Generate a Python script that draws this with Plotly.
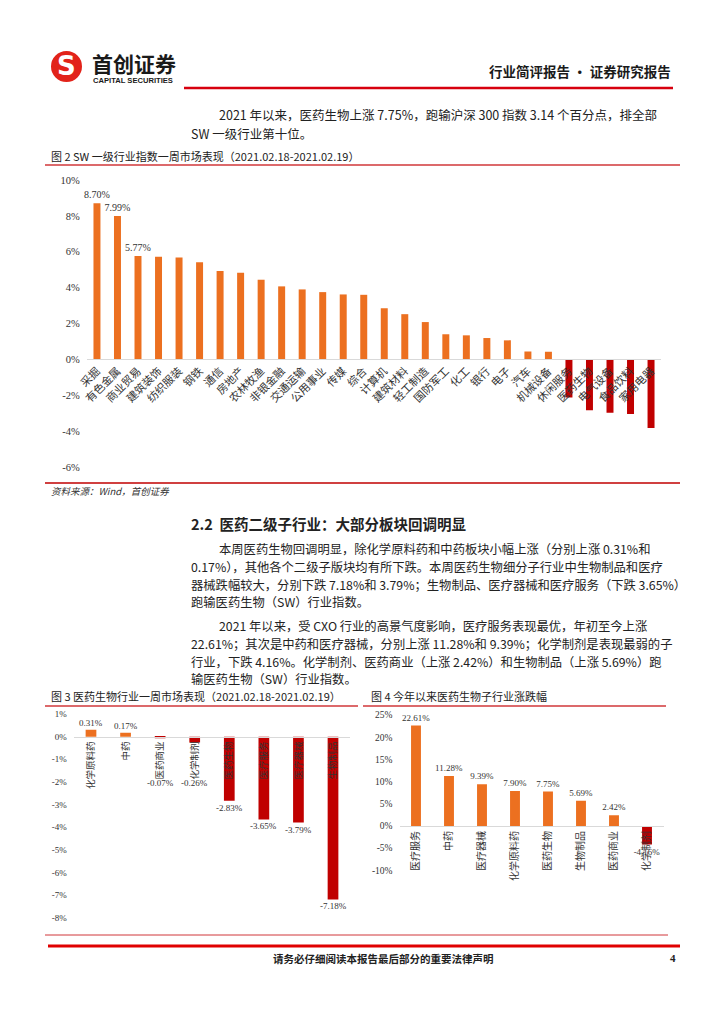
import plotly.graph_objects as go

W, H = 724, 1024

# ---------------- data ----------------
cats2 = ["采掘", "有色金属", "商业贸易", "建筑装饰", "纺织服装", "钢铁", "通信", "房地产",
         "农林牧渔", "非银金融", "交通运输", "公用事业", "传媒", "综合", "计算机", "建筑材料",
         "轻工制造", "国防军工", "化工", "银行", "电子", "汽车", "机械设备", "休闲服务",
         "医药生物", "电气设备", "食品饮料", "家用电器"]
vals2 = [8.70, 7.99, 5.77, 5.72, 5.68, 5.41, 4.93, 4.83, 4.44, 4.07, 3.90, 3.75, 3.62, 3.60,
         2.85, 2.52, 2.08, 1.40, 1.34, 1.19, 1.06, 0.44, 0.43, -2.13, -2.83, -2.98, -3.05, -3.83]
labelled2 = 3  # number of leading bars carrying a value label

cats3 = ["化学原料药", "中药", "医药商业", "化学制剂", "医药生物", "医疗服务", "医疗器械", "生物制品"]
vals3 = [0.31, 0.17, -0.07, -0.26, -2.83, -3.65, -3.79, -7.18]

cats4 = ["医疗服务", "中药", "医疗器械", "化学原料药", "医药生物", "生物制品", "医药商业", "化学制剂"]
vals4 = [22.61, 11.28, 9.39, 7.90, 7.75, 5.69, 2.42, -4.16]

ticks2 = [10, 8, 6, 4, 2, 0, -2, -4, -6]
ticks3 = [1, 0, -1, -2, -3, -4, -5, -6, -7, -8]
ticks4 = [25, 20, 15, 10, 5, 0, -5, -10]

ORANGE = "#EC7020"
RED = "#C00000"
SERIF = "Liberation Serif"
CJK = "Noto Sans CJK SC"


def fx(p):
    return p / W


def fy(p):
    return 1 - p / H


def colors(vals):
    return [ORANGE if v >= 0 else RED for v in vals]


def zero_pos(dom, rng):
    return dom[0] + (0 - rng[0]) / (rng[1] - rng[0]) * (dom[1] - dom[0])


fig = go.Figure()

# ---------------- chart 2 ----------------
rng2 = [-6, 10]
dom2y = [fy(467), fy(180)]
fig.add_trace(go.Bar(
    x=cats2, y=vals2, marker=dict(color=colors(vals2), line=dict(width=0)), width=0.34,
    text=[f"{v:.2f}%" if i < labelled2 else "" for i, v in enumerate(vals2)],
    textposition="outside", constraintext="none", cliponaxis=False,
    textfont=dict(family=SERIF, size=10, color="#333"),
    xaxis="x", yaxis="y", showlegend=False, hoverinfo="skip"))

# ---------------- chart 3 ----------------
rng3 = [-8, 1]
dom3y = [fy(918), fy(714)]
fig.add_trace(go.Bar(
    x=cats3, y=vals3, marker=dict(color=colors(vals3), line=dict(width=0)), width=0.31,
    xaxis="x2", yaxis="y2", showlegend=False, hoverinfo="skip"))
for c, v in zip(cats3, vals3):
    fig.add_annotation(x=c, y=v if v >= 0 else min(v, -1.75), xref="x2", yref="y2",
                       text=f"{v:.2f}%", showarrow=False,
                       yanchor="bottom" if v >= 0 else "top",
                       font=dict(family=SERIF, size=9, color="#333"))

# ---------------- chart 4 ----------------
rng4 = [-10, 25]
dom4y = [fy(870.3), fy(715)]
fig.add_trace(go.Bar(
    x=cats4, y=vals4, marker=dict(color=colors(vals4), line=dict(width=0)), width=0.30,
    text=[f"{v:.2f}%" for v in vals4], textposition="outside", constraintext="none",
    cliponaxis=False, textfont=dict(family=SERIF, size=9, color="#333"),
    xaxis="x3", yaxis="y3", showlegend=False, hoverinfo="skip"))


def yax(dom, rng, ticks, size, standoff, anchor):
    return dict(domain=dom, range=rng, tickvals=ticks, ticktext=[f"{t}%" for t in ticks],
                showgrid=False, zeroline=False, showline=False, ticks="", anchor=anchor,
                tickfont=dict(family=SERIF, size=size, color="#333"), automargin=False,
                ticklabelstandoff=standoff, fixedrange=True)


def xax(dom, ydom, rng, angle, size):
    return dict(domain=dom, type="category", anchor="free", position=zero_pos(ydom, rng),
                showgrid=False, zeroline=False, showline=True, automargin=False,
                linecolor="#D9D9D9", linewidth=1, ticks="", tickangle=angle,
                tickfont=dict(family=CJK, size=size, color="#333"), fixedrange=True)


fig.update_layout(
    width=W, height=H, margin=dict(l=0, r=0, t=0, b=0, autoexpand=False),
    paper_bgcolor="white", plot_bgcolor="rgba(0,0,0,0)", bargap=0.6,
    xaxis=xax([fx(86.7), fx(661.3)], dom2y, rng2, -45, 11),
    yaxis=yax(dom2y, rng2, ticks2, 10.5, 6, "x"),
    xaxis2=xax([fx(73.7), fx(350.3)], dom3y, rng3, -90, 9.5),
    yaxis2=yax(dom3y, rng3, ticks3, 9, 6, "x2"),
    xaxis3=xax([fx(399.5), fx(663.5)], dom4y, rng4, -90, 10),
    yaxis3=yax(dom4y, rng4, ticks4, 9.5, 6, "x3"),
)


# ---------------- page decoration ----------------
def line(x0, x1, y, color, w):
    fig.add_shape(type="line", xref="paper", yref="paper", x0=fx(x0), x1=fx(x1),
                  y0=fy(y), y1=fy(y), line=dict(color=color, width=w))


def text(x, y, s, size, family=CJK, color="#222", xanchor="left", weight="normal"):
    fig.add_annotation(xref="paper", yref="paper", x=fx(x), y=fy(y), text=s, showarrow=False,
                       xanchor=xanchor, yanchor="middle", borderpad=0,
                       font=dict(family=family, size=size, color=color, weight=weight))


# header
fig.add_shape(type="circle", xref="paper", yref="paper", x0=fx(51), x1=fx(82), y0=fy(82), y1=fy(51),
              fillcolor="#E2231A", line=dict(width=0))
text(66.5, 66, "S", 26, family="DejaVu Sans", color="white", xanchor="center", weight="bold")
text(91, 63, "首创证券", 21, color="#1a1a1a", weight="bold")
text(92, 80, "CAPITAL SECURITIES", 7.6, family="Liberation Sans", color="#1a1a1a", weight="bold")
text(672, 71, "行业简评报告 · 证券研究报告", 13.5, color="#1a1a1a", xanchor="right", weight="bold")
line(184, 673, 88, "#D7000F", 2.5)

text(218, 114, "2021 年以来，医药生物上涨 7.75%，跑输沪深 300 指数 3.14 个百分点，排全部", 12.5)
text(190, 133, "SW 一级行业第十位。", 12.5)

# figure 2 title / source
text(50, 156, "图 2 SW 一级行业指数一周市场表现（2021.02.18-2021.02.19）", 11)
line(45, 680, 165, "#D0373A", 1.5)
line(45, 680, 483, "#C00000", 1.5)
text(50, 491, "<i>资料来源：Wind，首创证券</i>", 9.5, color="#333")

# section
text(190, 523, "2.2  医药二级子行业：大部分板块回调明显", 14.5, weight="bold")
p1 = ["本周医药生物回调明显，除化学原料药和中药板块小幅上涨（分别上涨 0.31%和",
      "0.17%），其他各个二级子版块均有所下跌。本周医药生物细分子行业中生物制品和医疗",
      "器械跌幅较大，分别下跌 7.18%和 3.79%；生物制品、医疗器械和医疗服务（下跌 3.65%）",
      "跑输医药生物（SW）行业指数。"]
p2 = ["2021 年以来，受 CXO 行业的高景气度影响，医疗服务表现最优，年初至今上涨",
      "22.61%；其次是中药和医疗器械，分别上涨 11.28%和 9.39%；化学制剂是表现最弱的子",
      "行业，下跌 4.16%。化学制剂、医药商业（上涨 2.42%）和生物制品（上涨 5.69%）跑",
      "输医药生物（SW）行业指数。"]
LS = 17.8
for i, s in enumerate(p1):
    text(218 if i == 0 else 190, 549 + LS * i, s, 12.3)
for i, s in enumerate(p2):
    text(218 if i == 0 else 190, 626 + LS * i, s, 12.3)

# figures 3 / 4 titles
text(50, 696, "图 3 医药生物行业一周市场表现（2021.02.18-2021.02.19）", 11)
line(45, 358, 706, "#D0373A", 1.5)
text(370, 696, "图 4 今年以来医药生物子行业涨跌幅", 11)
line(363, 666, 706, "#D0373A", 1.5)

# footer
line(45, 668, 935, "#D0373A", 1)
line(48, 680, 946, "#E00000", 3)
text(383, 958, "请务必仔细阅读本报告最后部分的重要法律声明", 10.5, xanchor="center", weight="bold")
text(673, 958, "4", 11, family=SERIF, xanchor="center", weight="bold")

fig.write_html("out.html", config={"displayModeBar": False},
               post_script="document.body.style.margin='0';")
